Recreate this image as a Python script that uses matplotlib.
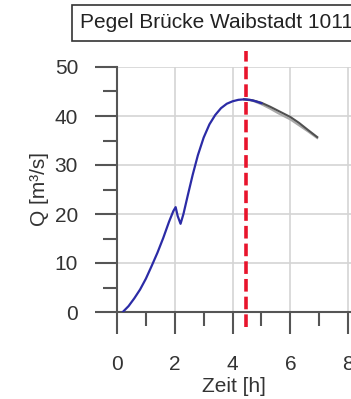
import matplotlib.pyplot as plt
import numpy as np

plt.rcParams['font.family'] = ['Liberation Sans', 'DejaVu Sans']

# measured hydrograph (blue)
t_obs = [0.2, 0.4, 0.6, 0.8, 1.0, 1.2, 1.4, 1.6, 1.8, 1.95, 2.03, 2.1, 2.2, 2.3, 2.45,
         2.62, 2.8, 3.0, 3.2, 3.4, 3.6, 3.8, 4.0, 4.2, 4.4, 4.6, 4.8, 5.0]
q_obs = [0.0, 1.2, 2.8, 4.6, 6.8, 9.4, 12.1, 15.1, 18.4, 20.6, 21.4, 19.6, 18.0, 20.0, 23.8,
         28.0, 32.0, 35.6, 38.3, 40.2, 41.6, 42.5, 43.0, 43.3, 43.4, 43.3, 43.0, 42.6]

# forecast members (grey)
t_fc = [4.4, 4.7, 5.0, 5.3, 5.6, 6.0, 6.3, 6.6, 6.93]
q_fc1 = [43.4, 43.2, 42.7, 41.9, 41.0, 39.8, 38.6, 37.2, 35.7]
q_fc2 = [43.4, 43.1, 42.4, 41.5, 40.5, 39.3, 38.1, 36.9, 35.5]

t_now = 4.45
title = "Pegel Brücke Waibstadt 10111"

fig = plt.figure(figsize=(3.51, 3.99), dpi=100)
ax = fig.add_axes([117 / 351, 87 / 399, 1 - 117 / 351, 245 / 399])

ax.plot(t_fc, q_fc2, color='#a8a8a8', lw=1.5, zorder=3)
ax.plot(t_fc, q_fc1, color='#505050', lw=1.5, zorder=3)
ax.plot(t_obs, q_obs, color='#2b2ba6', lw=1.6, zorder=4)

ax.plot([t_now, t_now], [-3, 53.3], color='#e8142c', lw=2.6,
        linestyle=(0, (3.5, 1.4)), clip_on=False, zorder=5)

ax.set_xlim(0, 8.1)
ax.set_ylim(0, 50)
ax.set_xticks([0, 2, 4, 6, 8])
ax.set_xticks([1, 3, 5, 7], minor=True)
ax.set_yticks([0, 10, 20, 30, 40, 50])
ax.set_yticks([5, 15, 25, 35, 45], minor=True)

ax.grid(True, which='major', color='#d4d4d4', lw=1.2)
ax.set_axisbelow(True)
for s in ['top', 'right']:
    ax.spines[s].set_visible(False)
for s in ['left', 'bottom']:
    ax.spines[s].set_color('#555555')
    ax.spines[s].set_linewidth(1.5)

ax.tick_params(which='major', length=16, width=1.5, color='#555555',
               labelsize=15, labelcolor='#333333')
ax.tick_params(axis='x', which='major', pad=15)
ax.tick_params(axis='y', which='major', pad=12)
ax.tick_params(which='minor', length=10, width=1.5, color='#555555')

ax.set_xlabel("Zeit [h]", fontsize=15, color='#333333', labelpad=2)
ax.set_ylabel("Q [m³/s]", fontsize=15, color='#333333', labelpad=4)

fig.text(80 / 351, 1 - 23 / 399, title, fontsize=15, color='#222222',
         ha='left', va='center',
         bbox=dict(boxstyle='square,pad=0.4', fc='white', ec='#333333', lw=1.2))

fig.savefig("out.png", dpi=100)
